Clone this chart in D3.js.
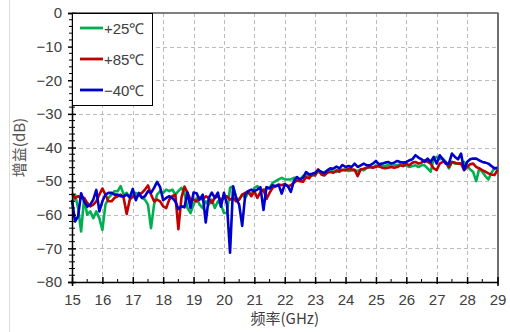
<!DOCTYPE html>
<html><head><meta charset="utf-8">
<script src="https://cdn.jsdelivr.net/npm/d3@7"></script>
<style>html,body{margin:0;padding:0;background:#fff;}svg{display:block;}</style>
</head><body>
<svg id="c" width="510" height="332"></svg>
<script>
const freqStart = 15, freqStep = 0.1;
const xTicks = [15,16,17,18,19,20,21,22,23,24,25,26,27,28,29];
const yTicks = [0,-10,-20,-30,-40,-50,-60,-70,-80];
const seriesNames = ["+25℃","+85℃","−40℃"];
const seriesColors = ["#00b050","#c00000","#0000cc"];
const gain25 = [-57,-54,-58,-65,-55,-60,-59,-61,-59,-61,-64.5,-57,-55,-54,-53,-53,-51.5,-54,-53.5,-55,-54,-53.5,-54,-55,-55.5,-57,-64,-57,-54,-53,-53.5,-52.5,-53,-52.5,-54,-53,-52,-53.5,-58,-59.5,-57,-55,-57,-58,-56,-57,-55.5,-58,-56,-57,-59.5,-59.5,-52,-51.5,-55,-55.5,-54,-55,-53.5,-54,-52,-51.5,-52.5,-53,-52,-52,-50.5,-50,-49.5,-49,-49.5,-49.5,-49.5,-49,-49,-49.5,-48.5,-48.2,-48.5,-48.3,-48,-47.3,-47.5,-47.3,-47,-46.8,-47.2,-47.3,-46.5,-46.8,-46.5,-47,-46.8,-46.8,-47,-46.5,-46.8,-46,-45.8,-46,-45.3,-45.7,-45.3,-45.5,-45.2,-45.6,-45.2,-45.3,-45,-45.5,-45.3,-45.8,-45.5,-45.3,-45.8,-45.3,-45.3,-46.2,-47.2,-43.3,-42.8,-43.5,-43.3,-44.3,-46.2,-44.3,-44.8,-44.8,-44.8,-44.3,-45.5,-46.5,-47.3,-50,-46.2,-47.2,-48.5,-49.5,-47.5,-46.2,-46.5];
const gain85 = [-53.6,-55,-54.5,-55,-55,-56.5,-57.5,-57,-56,-54,-52.2,-54,-56,-56,-55,-54.5,-54,-55,-59.8,-55.5,-54.5,-55,-54,-53.5,-52.5,-51.3,-54,-56,-55.5,-56,-57.5,-58,-55.5,-54.5,-54,-64.3,-55,-51.6,-53.5,-55.5,-55.5,-56,-55,-55.5,-54.5,-55,-56.5,-55,-54.5,-55.5,-55,-54.5,-55.5,-55,-56,-55.5,-54,-53.5,-53,-54.5,-53,-55,-53.3,-52.5,-55.3,-53.5,-52,-51.5,-51,-51.2,-50.8,-51.5,-51.2,-50.5,-49.8,-50,-50.2,-48.8,-49.2,-48,-48.3,-46.5,-48,-48.3,-47.5,-47.3,-47.5,-46.8,-47.2,-46.6,-46.8,-46.3,-46.5,-46.6,-48.5,-46.5,-46.3,-46,-45.8,-46,-45.7,-45.5,-46,-46.2,-46,-45.8,-46,-45.8,-45.3,-45.5,-44.8,-45.3,-44.5,-44.3,-44.8,-44.5,-43.8,-44.3,-44.8,-46.2,-46.7,-44.8,-44.3,-44.3,-45.8,-44.3,-44.5,-44.8,-44.8,-46.7,-45.8,-45,-44.8,-45.8,-46.2,-46.7,-47.2,-47.7,-48,-48.2,-46.7];
const gainM40 = [-55.6,-62,-60.5,-53.6,-56,-57.6,-57,-55.5,-52.6,-59,-56,-54,-53.5,-53.5,-54,-54,-54.5,-54.5,-54,-54.8,-52.3,-55.7,-53.5,-55,-54.5,-53,-53.5,-52,-50.2,-51.8,-55.7,-55,-54.5,-55,-56,-58.3,-57.5,-57.8,-53.4,-58,-53.4,-53.6,-55.5,-54,-62.3,-55,-53.4,-55,-53.4,-57.6,-53.5,-57,-71.3,-51.6,-55,-57,-63.3,-54,-53,-52.5,-53,-52.5,-51.8,-58.6,-51.8,-52.2,-51.2,-51.5,-51.2,-53.7,-51,-51.5,-53.2,-50,-48.8,-49.5,-49,-47.3,-48,-47.8,-47.5,-46.7,-47.2,-47.7,-46.8,-46.2,-46.3,-45.7,-46.2,-45.2,-45.8,-45.5,-45.8,-44.8,-45.8,-45.3,-44.8,-45.3,-45.3,-44.8,-44,-45,-44.8,-44.5,-44.3,-44.8,-44.5,-44,-44.3,-44.5,-44.3,-43.8,-43.5,-42.3,-43,-43.5,-44.3,-43.3,-44.3,-42.8,-44.8,-42.3,-43.5,-44.8,-44.8,-41.8,-42.8,-43.5,-41.8,-46.7,-44.3,-43.5,-43.3,-43.3,-43.8,-44.3,-44.5,-44.8,-45.5,-46.2,-46];
const allSeries = [gain25, gain85, gainM40];

const svg = d3.select("#c");
const L = 72, R = 497.5, T = 13, B = 282;
const x = d3.scaleLinear().domain([15,29]).range([L,R]);
const y = d3.scaleLinear().domain([-80,0]).range([B,T]);
const tickFont = "'Liberation Sans', Arial, sans-serif";

// outer frame hint
svg.append("line").attr("x1",9.5).attr("x2",9.5).attr("y1",0).attr("y2",332).attr("stroke","#dcdcdc");

// grid
const grid = svg.append("g").attr("stroke","#bcbcbc").attr("stroke-dasharray","4,3").attr("stroke-width",1);
xTicks.slice(1,-1).forEach(t=>grid.append("line").attr("x1",Math.round(x(t))+0.5).attr("x2",Math.round(x(t))+0.5).attr("y1",T).attr("y2",B));
yTicks.slice(1,-1).forEach(t=>grid.append("line").attr("y1",Math.round(y(t))+0.5).attr("y2",Math.round(y(t))+0.5).attr("x1",L).attr("x2",R));

// frame top/right
svg.append("line").attr("x1",L).attr("x2",R+1).attr("y1",T).attr("y2",T).attr("stroke","#555").attr("stroke-width",1.5);
svg.append("line").attr("x1",R+0.5).attr("x2",R+0.5).attr("y1",T).attr("y2",B).attr("stroke","#6e6e6e").attr("stroke-width",2);

// series
const line = d3.line().x((d,i)=>x(freqStart+i*freqStep)).y(d=>y(d));
allSeries.forEach((s,k)=>{
  svg.append("path").datum(s).attr("d",line).attr("fill","none")
    .attr("stroke",seriesColors[k]).attr("stroke-width",2.6).attr("stroke-linejoin","round");
});

// axes
const yAxis = d3.axisLeft(y).tickValues(yTicks).tickSize(4).tickPadding(6).tickFormat(d=>d===0?"0":"−"+Math.abs(d));
const gy = svg.append("g").attr("transform",`translate(${L},0)`).call(yAxis);
gy.select(".domain").attr("stroke","#000").attr("stroke-width",1.5);
gy.selectAll(".tick line").attr("stroke","#000").attr("stroke-width",1.5).attr("x2",-4).attr("x1",4);
gy.selectAll("text").attr("font-family",tickFont).attr("font-size",15).attr("fill","#404040");
const yMinor = d3.range(-80,0.01,2).filter(v=>v%10!==0);
svg.append("g").selectAll("line").data(yMinor).join("line")
  .attr("x1",L-3).attr("x2",L+3).attr("y1",d=>y(d)).attr("y2",d=>y(d)).attr("stroke","#000").attr("stroke-width",1);

const xAxis = d3.axisBottom(x).tickValues(xTicks).tickSize(4).tickPadding(8).tickFormat(d3.format("d"));
const gx = svg.append("g").attr("transform",`translate(0,${B})`).call(xAxis);
gx.select(".domain").attr("stroke","#000").attr("stroke-width",1.5);
gx.selectAll(".tick line").attr("stroke","#000").attr("stroke-width",1.5).attr("y1",-5).attr("y2",2);
gx.selectAll("text").attr("font-family",tickFont).attr("font-size",15).attr("fill","#404040");
const xMinor = d3.range(15.5,29,1);
svg.append("g").selectAll("line").data(xMinor).join("line")
  .attr("y1",B-3).attr("y2",B+1).attr("x1",d=>x(d)).attr("x2",d=>x(d)).attr("stroke","#000").attr("stroke-width",1);

// axis titles
svg.append("text").attr("transform",`translate(25,${(T+B)/2}) rotate(-90)`).attr("text-anchor","middle")
  .attr("font-family","'Noto Sans CJK SC', sans-serif").attr("font-size",15).attr("fill","#555").text("增益(dB)");
svg.append("text").attr("x",(L+R)/2).attr("y",324).attr("text-anchor","middle")
  .attr("font-family","'Noto Sans CJK SC', sans-serif").attr("font-size",15).attr("fill","#404040").text("频率(GHz)");

// legend
const lg = svg.append("g");
lg.append("rect").attr("x",L+0.5).attr("y",T+0.5).attr("width",80).attr("height",92).attr("fill","#fff").attr("stroke","#000").attr("stroke-width",1);
seriesNames.forEach((n,k)=>{
  const yy = T + 15 + k*31;
  lg.append("line").attr("x1",L+8).attr("x2",L+31).attr("y1",yy).attr("y2",yy).attr("stroke",seriesColors[k]).attr("stroke-width",2.8);
  lg.append("text").attr("x",L+32).attr("y",yy+6).attr("font-family",tickFont).attr("font-size",15).attr("fill","#404040").text(n);
});
</script>
</body></html>
